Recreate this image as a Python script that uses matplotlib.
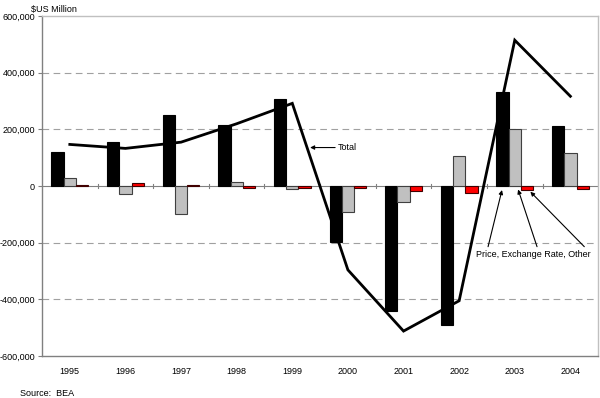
import matplotlib
matplotlib.use("Agg")
import matplotlib.pyplot as plt
import numpy as np

plt.rcParams['font.family'] = ['Liberation Sans', 'DejaVu Sans']

years = ['1995', '1996', '1997', '1998', '1999', '2000', '2001', '2002', '2003', '2004']
flows = [119000, 154000, 250000, 217000, 307000, -199000, -440000, -490000, 331000, 213000]
price = [27000, -29000, -99000, 13000, -12000, -93000, -58000, 107000, 200000, 115000]
exrate_other = [2000, 9500, 2000, -8000, -7000, -8000, -16000, -24000, -14000, -12000]
total = [147000, 133000, 155000, 220000, 292000, -296000, -512000, -405000, 515000, 317000]
yticks = [-600000, -400000, -200000, 0, 200000, 400000, 600000]

FS = 6.5
fig = plt.figure(figsize=(6.0, 3.98), dpi=100)
ax = fig.add_axes([0.07, 0.1055, 0.927, 0.854])

x = np.arange(len(years))
w = 0.22
ax.bar(x - w, flows, w, color='black', edgecolor='black', linewidth=0.8, zorder=3)
ax.bar(x, price, w, color='#c0c0c0', edgecolor='#404040', linewidth=0.8, zorder=3)
ax.bar(x + w, exrate_other, w, color='#ff0000', edgecolor='#400000', linewidth=0.8, zorder=3)
ax.plot(x, total, color='black', linewidth=2.0, zorder=4, solid_joinstyle='miter')

ax.set_xlim(-0.5, len(years) - 0.5)
ax.set_ylim(-600000, 600000)
ax.set_yticks(yticks)
ax.set_yticklabels([f"{v:,}" for v in yticks], fontsize=FS)
ax.tick_params(axis='y', length=3, width=0.8, color='#808080', pad=2)
ax.set_xticks(x)
ax.set_xticklabels(years, fontsize=FS)
ax.tick_params(axis='x', length=0, pad=8)

for v in [-400000, -200000, 200000, 400000]:
    ax.axhline(v, color='#a0a0a0', linewidth=0.8, dashes=(6, 4), zorder=1)
ax.axhline(0, color='#808080', linewidth=0.8, zorder=2)
for b in np.arange(0.5, len(years) - 0.5, 1.0):
    ax.plot([b, b], [-8000, 8000], color='#808080', linewidth=0.8, zorder=2)

for side in ['left', 'bottom']:
    ax.spines[side].set_color('#808080')
    ax.spines[side].set_linewidth(1.0)
for side in ['top', 'right']:
    ax.spines[side].set_color('#c0c0c0')
    ax.spines[side].set_linewidth(1.0)

ax.annotate('Total', xy=(4.32, 136000), xytext=(4.82, 136000),
            fontsize=FS, va='center', ha='left',
            arrowprops=dict(arrowstyle='-|>', color='black', lw=0.8,
                            mutation_scale=6, shrinkA=0, shrinkB=0))

ax.text(8.33, -243000, 'Price, Exchange Rate, Other', fontsize=FS,
        ha='center', va='center')
tails = [(7.52, -214000), (8.40, -214000), (9.25, -214000)]
heads = [(7.77, -14000), (8.06, -12000), (8.28, -20000)]
for (tx, ty), (hx, hy) in zip(tails, heads):
    ax.annotate('', xy=(hx, hy), xytext=(tx, ty),
                arrowprops=dict(arrowstyle='-|>', color='black', lw=0.8,
                                mutation_scale=6, shrinkA=0, shrinkB=0))

fig.text(0.051, 0.987, '$US Million', fontsize=FS, ha='left', va='top')
fig.text(0.033, 0.012, 'Source:  BEA', fontsize=FS, ha='left', va='center')

fig.savefig('out.png', dpi=100)
